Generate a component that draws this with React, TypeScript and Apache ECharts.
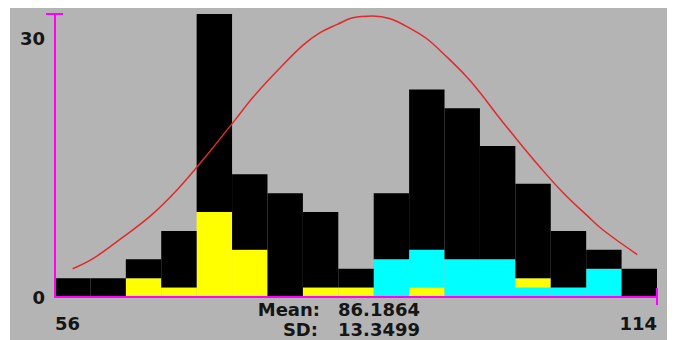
import React, { useEffect, useRef } from "react";
import * as echarts from "echarts";

// ---- data ----
const binStarts = [
  "56.0", "59.4", "62.8", "66.2", "69.6", "73.1", "76.5", "79.9", "83.3",
  "86.7", "90.1", "93.5", "96.9", "100.4", "103.8", "107.2", "110.6",
];
const totalCounts = [2, 2, 4, 7, 30, 13, 11, 9, 3, 11, 22, 20, 16, 12, 7, 5, 3];
const yellowCounts = [0, 0, 2, 1, 9, 5, 0, 1, 1, 0, 1, 0, 0, 1, 0, 0, 0];
const cyanCounts = [0, 0, 0, 0, 0, 0, 0, 0, 0, 4, 4, 4, 4, 1, 1, 3, 0];
// bins where the yellow block sits on top of the cyan block
const yellowAboveCyanBins = [13];

// fitted normal curve
const curveX = [
  57.7, 59.7, 62.0, 65.2, 67.8, 70.3, 73.3, 75.1, 77.7, 79.9, 81.5, 83.2, 84.7,
  86.6, 88.3, 90.5, 91.8, 93.8, 95.7, 97.0, 98.6, 100.5, 102.7, 105.0, 107.3,
  108.8, 112.1,
];
const curveY = [
  3.0, 4.1, 5.9, 8.6, 11.4, 14.6, 18.7, 21.2, 24.3, 26.7, 28.0, 28.9, 29.6,
  29.8, 29.5, 28.3, 27.4, 25.4, 23.3, 21.6, 19.3, 16.7, 13.8, 11.0, 8.6, 7.1,
  4.5,
];

const xMin = 56;
const xMax = 114;
const yMin = 0;
const yMax = 30;
const meanText = "86.1864";
const sdText = "13.3499";

const FONT = "DejaVu Sans";
const TEXT_COLOR = "#151515";
const AXIS_COLOR = "#ff00ff";

export default function App() {
  const ref = useRef<HTMLDivElement>(null);

  useEffect(() => {
    if (!ref.current) return;
    const chart = echarts.init(ref.current, null, { renderer: "svg" });

    const yellowLow = yellowCounts.map((v, i) =>
      yellowAboveCyanBins.includes(i) ? 0 : v
    );
    const yellowHigh = yellowCounts.map((v, i) =>
      yellowAboveCyanBins.includes(i) ? v : 0
    );
    const rest = totalCounts.map((t, i) => t - yellowCounts[i] - cyanCounts[i]);

    const labelStyle = {
      fontFamily: FONT,
      fontWeight: "bold" as const,
      fontSize: 18,
      color: TEXT_COLOR,
    };

    const barBase = {
      type: "bar" as const,
      stack: "hist",
      xAxisIndex: 0,
      yAxisIndex: 0,
      barCategoryGap: "0%",
      barGap: "0%",
    };

    const textFont = `bold 18px "${FONT}"`;

    chart.setOption({
      animation: false,
      backgroundColor: "#b4b4b4",
      grid: {
        left: 45,
        right: 10,
        top: 6,
        bottom: 43,
        containLabel: false,
        outerBoundsMode: "none",
      },
      xAxis: [
        {
          type: "category",
          data: binStarts,
          boundaryGap: true,
          position: "bottom",
          z: 10,
          axisLine: { show: true, lineStyle: { color: AXIS_COLOR, width: 2 } },
          axisTick: { show: false },
          axisLabel: { show: false },
          splitLine: { show: false },
        },
        {
          type: "value",
          min: xMin,
          max: xMax,
          interval: xMax - xMin,
          position: "bottom",
          offset: 0,
          z: 10,
          axisLine: { show: false },
          splitLine: { show: false },
          axisTick: {
            show: true,
            inside: false,
            length: 8,
            customValues: [xMax],
            lineStyle: { color: AXIS_COLOR, width: 2 },
          },
          axisLabel: {
            ...labelStyle,
            margin: 17,
            alignMinLabel: "left",
            alignMaxLabel: "right",
          },
        },
        {
          type: "value",
          min: xMin,
          max: xMax,
          interval: xMax - xMin,
          position: "bottom",
          offset: 0,
          z: 10,
          axisLine: { show: false },
          splitLine: { show: false },
          axisLabel: { show: false },
          axisTick: {
            show: true,
            inside: true,
            length: 9,
            customValues: [xMax],
            lineStyle: { color: AXIS_COLOR, width: 2 },
          },
        },
      ],
      yAxis: [
        {
          type: "value",
          min: yMin,
          max: yMax,
          interval: yMax - yMin,
          position: "left",
          offset: 0,
          z: 10,
          axisLine: { show: true, lineStyle: { color: AXIS_COLOR, width: 2 } },
          splitLine: { show: false },
          axisTick: {
            show: true,
            inside: false,
            length: 9,
            customValues: [yMax],
            lineStyle: { color: AXIS_COLOR, width: 2 },
          },
          axisLabel: {
            ...labelStyle,
            margin: 10,
            formatter: (v: number) => (v === yMin ? String(v) : ""),
          },
        },
        {
          type: "value",
          min: yMin,
          max: yMax,
          interval: yMax - yMin,
          position: "left",
          offset: 0,
          z: 10,
          axisLine: { show: false },
          splitLine: { show: false },
          axisTick: {
            show: true,
            inside: true,
            length: 8,
            customValues: [yMax],
            lineStyle: { color: AXIS_COLOR, width: 2 },
          },
          axisLabel: {
            ...labelStyle,
            margin: 10,
            verticalAlign: "top",
            padding: [15, 0, 0, 0],
            formatter: (v: number) => (v === yMax ? String(v) : ""),
          },
        },
      ],
      series: [
        { ...barBase, name: "yellow", data: yellowLow, itemStyle: { color: "#ffff00" } },
        { ...barBase, name: "cyan", data: cyanCounts, itemStyle: { color: "#00ffff" } },
        { ...barBase, name: "yellow (upper)", data: yellowHigh, itemStyle: { color: "#ffff00" } },
        { ...barBase, name: "other", data: rest, itemStyle: { color: "#000000" } },
        {
          type: "line",
          name: "normal",
          xAxisIndex: 1,
          yAxisIndex: 0,
          data: curveX.map((x, i) => [x, curveY[i]]),
          smooth: 0.4,
          showSymbol: false,
          symbol: "none",
          z: 5,
          lineStyle: { color: "#e2292b", width: 1.5 },
        },
      ],
      graphic: [
        {
          type: "text",
          x: 310,
          y: 301,
          style: { text: "Mean:", align: "right", verticalAlign: "middle", font: textFont, fill: TEXT_COLOR },
        },
        {
          type: "text",
          x: 328,
          y: 301,
          style: { text: meanText, align: "left", verticalAlign: "middle", font: textFont, fill: TEXT_COLOR },
        },
        {
          type: "text",
          x: 308,
          y: 321,
          style: { text: "SD:", align: "right", verticalAlign: "middle", font: textFont, fill: TEXT_COLOR },
        },
        {
          type: "text",
          x: 328,
          y: 321,
          style: { text: sdText, align: "left", verticalAlign: "middle", font: textFont, fill: TEXT_COLOR },
        },
      ],
    });

    return () => chart.dispose();
  }, []);

  return (
    <div
      ref={ref}
      style={{ position: "absolute", left: 10, top: 8, width: 657, height: 332 }}
    />
  );
}
